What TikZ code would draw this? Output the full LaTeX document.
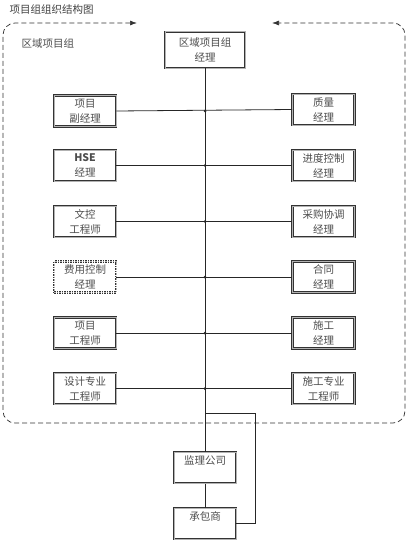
\documentclass[tikz,border=0pt]{standalone}
\usepackage{fontspec}
\setmainfont{Noto Sans CJK SC}
\usetikzlibrary{arrows.meta}

\tikzset{
  post/.style={draw=black!80, line width=0.6pt, double=black!30, double distance=1pt,
    minimum width=62pt, minimum height=31pt, inner sep=1pt, align=center,
    text=black!70, font=\fontsize{10.5}{15}\selectfont},
  postdash/.style={post, dash pattern=on 1.5pt off 1pt},
  link/.style={draw=black!85, line width=0.8pt},
  joint/.style={circle, fill=black!85, inner sep=0pt, minimum size=3pt}
}

\begin{document}
\begin{tikzpicture}[x=1pt, y=-1pt]
        \useasboundingbox (0,0) rectangle (409,543);

        % title and group boundary
        \node[anchor=west, text=black!75, font=\fontsize{10.5}{12}\selectfont] (title) at (6,10) {项目组组织结构图};
        \draw[black!80, line width=0.7pt, dash pattern=on 5pt off 3pt, rounded corners=12,
              {Latex[length=7pt,width=5pt]}-{Latex[length=7pt,width=5pt]}]
              (137,23) -- (3,23) -- (3,423) -- (405,423) -- (405,23) -- (272,23);
        \node[anchor=west, text=black!70, font=\fontsize{10.5}{12}\selectfont] (group) at (18,44) {区域项目组};

        % manager
        \node[post, minimum width=80pt, minimum height=36pt] (mgr) at (205,50) {区域项目组\\经理};

        % left column
        \node[post] (vice) at (85,111) {项目\\副经理};
        \node[post] (hse) at (85,165.5) {\textbf{HSE}\\经理};
        \node[post] (doc) at (85,221.5) {文控\\工程师};
        \node[postdash] (cost) at (85,277) {费用控制\\经理};
        \node[post] (proj) at (85,333) {项目\\工程师};
        \node[post] (design) at (85,388.5) {设计专业\\工程师};

        % right column
        \node[post] (qual) at (323.5,109.5) {质量\\经理};
        \node[post] (sched) at (323.5,165.5) {进度控制\\经理};
        \node[post] (buy) at (323.5,221.5) {采购协调\\经理};
        \node[post] (contract) at (323.5,277) {合同\\经理};
        \node[post] (build) at (323.5,333) {施工\\经理};
        \node[post] (site) at (323.5,388.5) {施工专业\\工程师};

        % outside parties
        \node[post, anchor=north] (super) at (205,452) {监理公司\\\mbox{}};
        \node[post, anchor=north] (contr) at (205,508) {承包商\\\mbox{}};

        % trunk and branches
        \draw[link] (mgr.south) -- (super.north);
        \draw[link] (super.south) -- (contr.north);
        \foreach \l/\r in {vice/qual, hse/sched, doc/buy, cost/contract, proj/build, design/site} {
          \draw[link] (\l.east) -- (\r.west);
          \node[joint] (j-\l) at (205,0 |- \l.east) {};
        }

        % loop to contractor
        \coordinate (split) at (205,413);
        \coordinate (turn) at (255,413);
        \draw[link] (split) -- (turn) |- (contr.east);

    \end{tikzpicture}
\end{document}
